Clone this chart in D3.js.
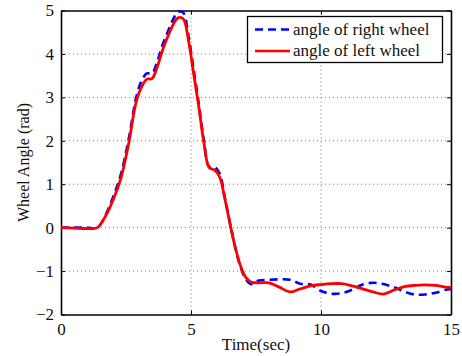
<!DOCTYPE html>
<html>
<head>
<meta charset="utf-8">
<script src="https://cdn.jsdelivr.net/npm/d3@7"></script>
<style>
  html, body { margin: 0; padding: 0; background: #fff; }
  svg { display: block; font-family: "Liberation Serif", "DejaVu Serif", serif; }
</style>
</head>
<body>
<svg id="chart" width="462" height="356"></svg>
<script>
// time samples (sec)
const time = [0, 0.5, 1.0, 1.4, 1.7, 2.0, 2.3, 2.6, 2.9, 3.1, 3.3, 3.5, 3.7, 3.9, 4.1, 4.3, 4.5, 4.7, 4.9,
  5.1, 5.3, 5.5, 5.7, 5.9, 6.1, 6.3, 6.5, 6.7, 6.9, 7.1, 7.3, 7.6, 8.0, 8.4, 8.8, 9.2, 9.6, 10.0,
  10.4, 10.8, 11.2, 11.6, 12.0, 12.4, 12.8, 13.2, 13.6, 14.0, 14.4, 14.8, 15];

const rightWheel = [0, 0, 0, 0, 0.28, 0.70, 1.22, 2.03, 3.02, 3.38, 3.55, 3.55, 3.82, 4.2, 4.5, 4.78, 4.97, 4.95, 4.42,
  3.65, 2.85, 2.0, 1.4, 1.4, 1.25, 0.7, 0.1, -0.45, -0.9, -1.18, -1.3, -1.22, -1.2, -1.19, -1.2, -1.29, -1.31, -1.46,
  -1.52, -1.51, -1.43, -1.31, -1.27, -1.3, -1.37, -1.47, -1.54, -1.54, -1.5, -1.43, -1.41];

const leftWheel = [0, -0.01, -0.02, 0, 0.25, 0.63, 1.13, 1.93, 2.92, 3.24, 3.42, 3.43, 3.7, 4.08, 4.39, 4.66, 4.83, 4.81, 4.32,
  3.55, 2.78, 1.94, 1.38, 1.33, 1.17, 0.67, 0.09, -0.45, -0.87, -1.14, -1.25, -1.27, -1.27, -1.37, -1.48, -1.41, -1.34, -1.31,
  -1.29, -1.29, -1.34, -1.41, -1.48, -1.53, -1.44, -1.36, -1.33, -1.32, -1.33, -1.37, -1.38];

const xTicks = [0, 5, 10, 15];
const yTicks = [-2, -1, 0, 1, 2, 3, 4, 5];
const seriesNames = ['angle of right wheel', 'angle of left wheel'];

const margin = { left: 61, right: 11, top: 10.5, bottom: 41.5 };
const width = 462, height = 356;

const svg = d3.select('#chart');
const x = d3.scaleLinear().domain([0, 15]).range([margin.left, width - margin.right]);
const y = d3.scaleLinear().domain([-2, 5]).range([height - margin.bottom, margin.top]);

// grid
const grid = svg.append('g').attr('stroke', '#555').attr('stroke-width', 0.8).attr('stroke-dasharray', '1,3');
xTicks.slice(1, -1).forEach(t => grid.append('line')
  .attr('x1', x(t)).attr('x2', x(t)).attr('y1', y(-2)).attr('y2', y(5)));
yTicks.slice(1, -1).forEach(t => grid.append('line')
  .attr('x1', x(0)).attr('x2', x(15)).attr('y1', y(t)).attr('y2', y(t)));

// axes with inward ticks on all four sides
const tickLen = 4;
svg.append('g').attr('transform', `translate(0,${y(-2)})`)
  .call(d3.axisBottom(x).tickValues(xTicks).tickSizeInner(-tickLen).tickSizeOuter(0).tickPadding(8));
svg.append('g').attr('transform', `translate(0,${y(5)})`)
  .call(d3.axisTop(x).tickValues(xTicks).tickSizeInner(-tickLen).tickSizeOuter(0).tickFormat(''));
svg.append('g').attr('transform', `translate(${x(0)},0)`)
  .call(d3.axisLeft(y).tickValues(yTicks).tickSizeInner(-tickLen).tickSizeOuter(0).tickPadding(7)
    .tickFormat(d => d < 0 ? '\u2212' + Math.abs(d) : d));
svg.append('g').attr('transform', `translate(${x(15)},0)`)
  .call(d3.axisRight(y).tickValues(yTicks).tickSizeInner(-tickLen).tickSizeOuter(0).tickFormat(''));

svg.selectAll('.domain').attr('stroke', '#000').attr('stroke-width', 1.6);
svg.selectAll('.tick line').attr('stroke', '#000');
svg.selectAll('.tick text').attr('font-family', '"Liberation Serif", serif').attr('font-size', 17).attr('fill', '#111');

// lines
const line = d3.line().x(d => x(d[0])).y(d => y(d[1])).curve(d3.curveCatmullRom.alpha(0.5));
svg.append('path')
  .datum(time.map((t, i) => [t, rightWheel[i]]))
  .attr('d', line).attr('fill', 'none').attr('stroke', '#0000ff')
  .attr('stroke-width', 2.6).attr('stroke-dasharray', '8,5');
svg.append('path')
  .datum(time.map((t, i) => [t, leftWheel[i]]))
  .attr('d', line).attr('fill', 'none').attr('stroke', '#ff0000')
  .attr('stroke-width', 2.8);

// axis labels
svg.append('text').attr('x', (x(0) + x(15)) / 2).attr('y', 350).attr('text-anchor', 'middle')
  .attr('font-size', 17).attr('fill', '#111').text('Time(sec)');
svg.append('text').attr('transform', `translate(29,${(y(-2) + y(5)) / 2}) rotate(-90)`)
  .attr('text-anchor', 'middle').attr('font-size', 16).attr('fill', '#111').text('Wheel Angle (rad)');

// legend
const lg = svg.append('g');
lg.append('rect').attr('x', 247.5).attr('y', 16.5).attr('width', 195).attr('height', 46)
  .attr('fill', '#fff').attr('stroke', '#000').attr('stroke-width', 1.3);
const legendStyles = [
  { color: '#0000ff', dash: '8,5' },
  { color: '#ff0000', dash: null },
];
seriesNames.forEach((name, i) => {
  const ly = 29.5 + i * 21.5;
  lg.append('line').attr('x1', 255).attr('x2', 290).attr('y1', ly).attr('y2', ly)
    .attr('stroke', legendStyles[i].color).attr('stroke-width', 2.6)
    .attr('stroke-dasharray', legendStyles[i].dash);
  lg.append('text').attr('x', 293).attr('y', ly + 5).attr('font-size', 17).attr('fill', '#111').text(name);
});
</script>
</body>
</html>
